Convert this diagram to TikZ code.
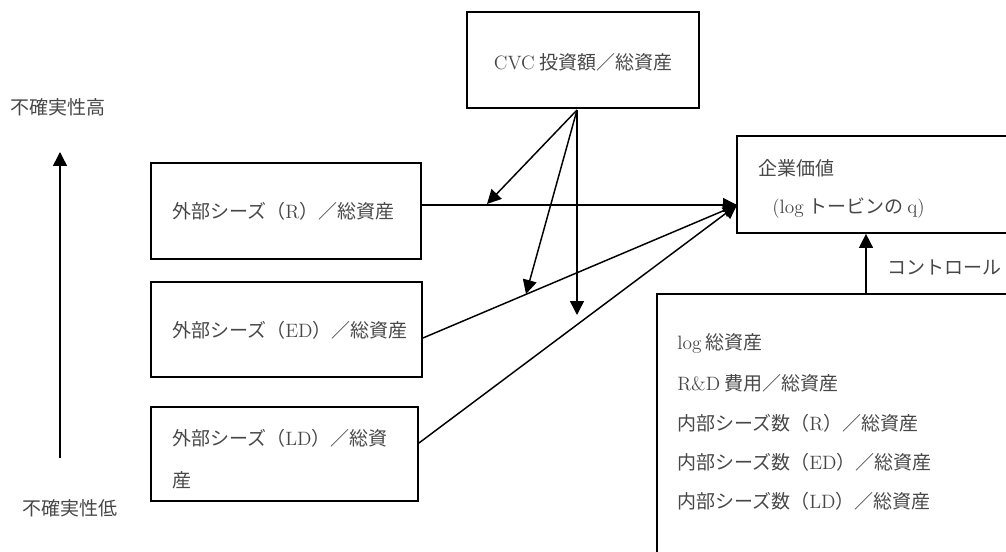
\documentclass[tikz,border=0pt]{standalone}
\usepackage{fontspec}
\newfontfamily\jp{Noto Sans CJK JP}
\usetikzlibrary{arrows.meta,fit}
\newcommand\lat[1]{{\rmfamily\fontsize{14.5}{17}\selectfont #1}}
\begin{document}
\begin{tikzpicture}[x=0.75pt,y=-0.75pt,
  box/.style={draw, line width=1.3pt, inner sep=0pt, rectangle},
  txt/.style={font=\jp\fontsize{14.25}{17}\selectfont, text=black!72, inner sep=0pt},
  arr/.style={line width=1.1pt, -{Triangle[length=10.5pt,width=10.5pt]}}]
\clip (0,0) rectangle (1006,552);
% boxes
\node[box, fit={(467,12) (699,108)}] (cvc) {};
\node[txt] (cvct) at (583,62) {\lat{CVC} 投資額／総資産};
\node[box, fit={(151,163) (421,259)}] (r) {};
\node[txt, anchor=west] (rt) at (172,211) {外部シーズ（\lat{R}）／総資産};
\node[box, fit={(151,282) (422,377)}] (ed) {};
\node[txt, anchor=west] (edt) at (172,330) {外部シーズ（\lat{ED}）／総資産};
\node[box, fit={(151,407) (418,501)}] (ld) {};
\node[txt, anchor=west] (ldt1) at (172,438) {外部シーズ（\lat{LD}）／総資};
\node[txt, anchor=west] (ldt2) at (172,480) {産};
\node[box, fit={(737,136) (1020,233)}] (v) {};
\node[txt, anchor=west] (vt1) at (758,168) {企業価値};
\node[txt, anchor=west] (vt2) at (772,208) {\lat{(log} トービンの \lat{q)}};
\node[box, fit={(657,294) (1020,570)}] (k) {};
\node[txt, anchor=west] (k1) at (677,343) {\lat{log} 総資産};
\node[txt, anchor=west] (k2) at (677,383) {\lat{R\&D} 費用／総資産};
\node[txt, anchor=west] (k3) at (677,423) {内部シーズ数（\lat{R}）／総資産};
\node[txt, anchor=west] (k4) at (677,462) {内部シーズ数（\lat{ED}）／総資産};
\node[txt, anchor=west] (k5) at (677,501) {内部シーズ数（\lat{LD}）／総資産};
\node[txt, anchor=west] (ctl) at (887,267) {コントロール};
\node[txt] (hi) at (58,107) {不確実性高};
\node[txt] (lo) at (70,508) {不確実性低};
% coordinates
\coordinate (vin) at (737,205);
\coordinate (c0) at (577,110);
\coordinate (t1) at (487,204);
\coordinate (t2) at (526,294);
\coordinate (t3) at (577,315);
\coordinate (ax0) at (60,458);
\coordinate (ax1) at (60,152);
\coordinate (cx) at (866,0);
% connectors
\draw[arr] (r.east |- vin) -- (vin);
\draw[arr] ([yshift=-6.4pt]ed.east) -- (vin);
\draw[arr] ([yshift=8.2pt]ld.east) -- (vin);
\draw[arr] (c0) -- (t1);
\draw[arr] (c0) -- (t2);
\draw[arr] (c0) -- (t3);
\draw[arr] (k.north -| cx) -- (v.south -| cx);
\draw[arr] (ax0) -- (ax1);
\end{tikzpicture}
\end{document}
